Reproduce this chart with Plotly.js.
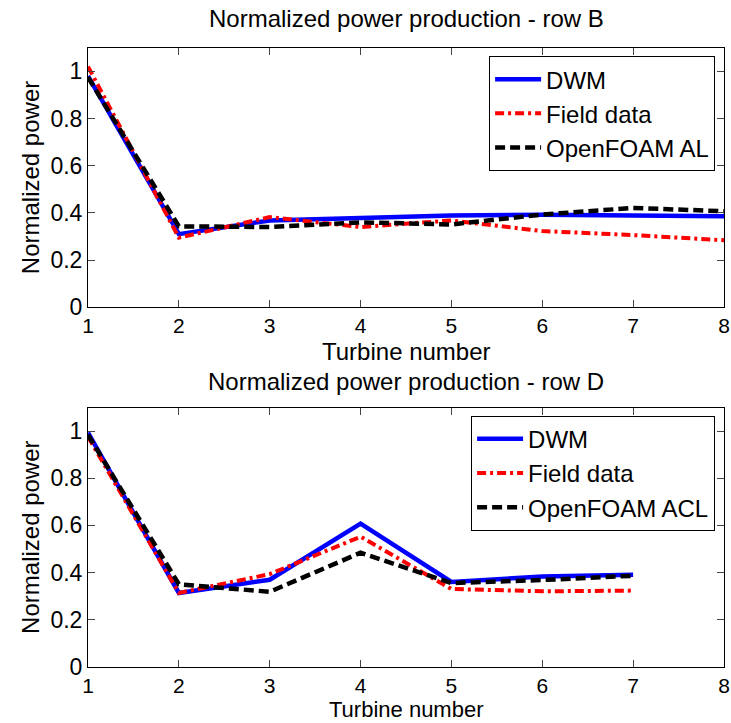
<!DOCTYPE html>
<html>
<head>
<meta charset="utf-8">
<script src="https://cdn.plot.ly/plotly-3.0.1.min.js"></script>
<style>
  body { margin: 0; background: #fff; }
  #myDiv { width: 731px; height: 723px; }
</style>
</head>
<body>
<div id="myDiv"></div>
<script>
// turbine numbers
var turbinesB = [1, 2, 3, 4, 5, 6, 7, 8];
var turbinesD = [1, 2, 3, 4, 5, 6, 7];

// row B
var dwmB = [0.98, 0.31, 0.368, 0.379, 0.389, 0.392, 0.389, 0.386];
var fieldB = [1.02, 0.295, 0.382, 0.34, 0.368, 0.323, 0.306, 0.284];
var foamB = [0.975, 0.343, 0.34, 0.36, 0.351, 0.393, 0.421, 0.407];

// row D
var dwmD = [0.994, 0.313, 0.369, 0.608, 0.36, 0.383, 0.39];
var fieldD = [0.977, 0.313, 0.393, 0.552, 0.33, 0.32, 0.323];
var foamD = [0.985, 0.35, 0.318, 0.484, 0.355, 0.368, 0.386];

var xTicks = [1, 2, 3, 4, 5, 6, 7, 8];
var yTicks = [0, 0.2, 0.4, 0.6, 0.8, 1];
var yTickText = ['0', '0.2', '0.4', '0.6', '0.8', '1'];

var fnt = 'Liberation Sans, Arial, sans-serif';

var blueLine = {color: '#0000ff', width: 4.5};
var redLine = {color: '#ff0000', width: 4, dash: '9px,4px,3px,4px'};
var blackLine = {color: '#000000', width: 4.5, dash: '10px,5px'};

var data = [
  {x: turbinesB, y: dwmB, name: 'DWM', mode: 'lines', line: blueLine, xaxis: 'x', yaxis: 'y', legend: 'legend'},
  {x: turbinesB, y: fieldB, name: 'Field data', mode: 'lines', line: redLine, xaxis: 'x', yaxis: 'y', legend: 'legend'},
  {x: turbinesB, y: foamB, name: 'OpenFOAM AL', mode: 'lines', line: blackLine, xaxis: 'x', yaxis: 'y', legend: 'legend'},
  {x: turbinesD, y: dwmD, name: 'DWM', mode: 'lines', line: blueLine, xaxis: 'x2', yaxis: 'y2', legend: 'legend2'},
  {x: turbinesD, y: fieldD, name: 'Field data', mode: 'lines', line: redLine, xaxis: 'x2', yaxis: 'y2', legend: 'legend2'},
  {x: turbinesD, y: foamD, name: 'OpenFOAM ACL', mode: 'lines', line: blackLine, xaxis: 'x2', yaxis: 'y2', legend: 'legend2'}
];

function xax(anchor) {
  return {
    anchor: anchor, range: [1, 8], tickvals: xTicks, ticks: 'inside', ticklen: 7,
    showline: true, linecolor: '#000', linewidth: 1, mirror: 'ticks', zeroline: false, showgrid: false,
    tickfont: {family: fnt, size: 21, color: '#000'}
  };
}
function yax(anchor, dom) {
  return {
    anchor: anchor, domain: dom, range: [0, 1.1], tickvals: yTicks, ticktext: yTickText, ticks: 'inside', ticklen: 7,
    showline: true, linecolor: '#000', linewidth: 1, mirror: 'ticks', zeroline: false, showgrid: false,
    tickfont: {family: fnt, size: 23, color: '#000'},
    title: {text: 'Normalized power', font: {family: fnt, size: 24, color: '#000'}, standoff: 4}
  };
}

function leg(yTop) {
  return {
    x: 0.986, xanchor: 'right', y: yTop, yanchor: 'top',
    bordercolor: '#000', borderwidth: 1, bgcolor: '#fff', itemwidth: 46,
    font: {family: fnt, size: 24, color: '#000'}, tracegroupgap: 0
  };
}

function note(text, y, size) {
  return {text: text, xref: 'paper', yref: 'paper', x: 0.5, y: y, xanchor: 'center', yanchor: 'middle',
    showarrow: false, font: {family: fnt, size: size, color: '#000'}};
}

var layout = {
  width: 731, height: 723,
  margin: {l: 88, r: 7, t: 0, b: 0},
  paper_bgcolor: '#fff', plot_bgcolor: '#fff',
  showlegend: true,
  xaxis: xax('y'),
  yaxis: yax('x', [0.575, 0.934]),
  xaxis2: xax('y2'),
  yaxis2: yax('x2', [0.078, 0.436]),
  legend: leg(0.9225),
  legend2: leg(0.425),
  annotations: [
    note('Normalized power production - row B', 0.975, 24),
    note('Turbine number', 0.514, 24),
    note('Normalized power production - row D', 0.473, 24),
    note('Turbine number', 0.018, 22)
  ]
};

Plotly.newPlot('myDiv', data, layout, {displayModeBar: false});
</script>
</body>
</html>
